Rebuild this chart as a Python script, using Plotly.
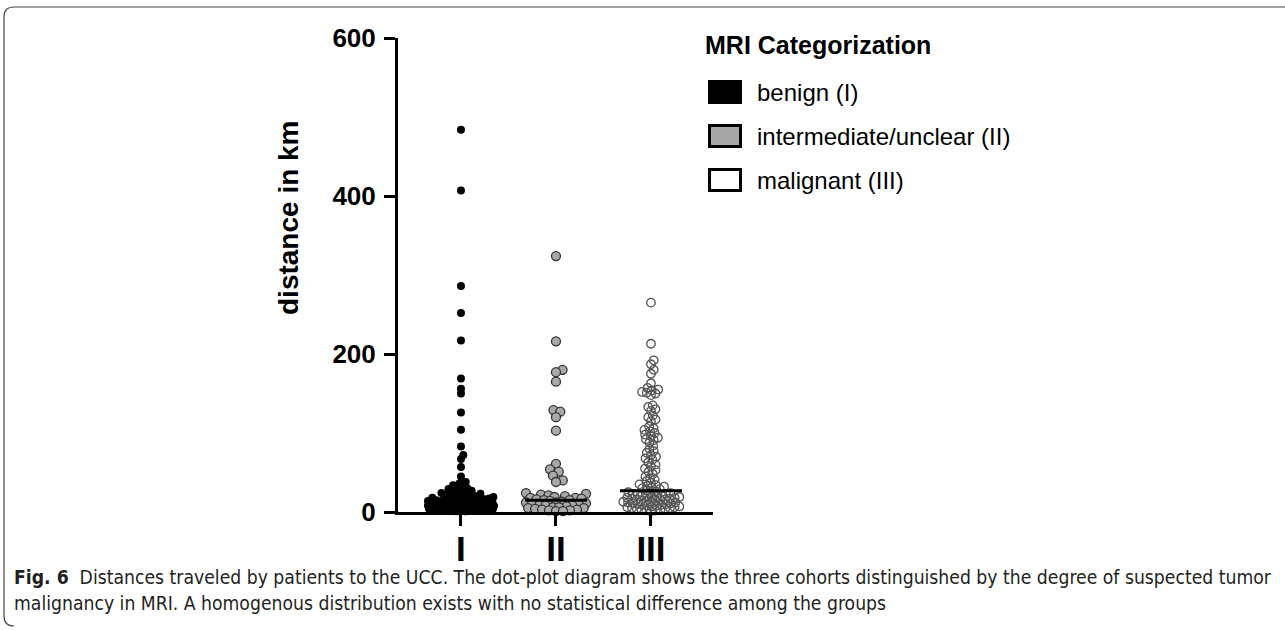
import math
import plotly.graph_objects as go

# ---------------- data ----------------
categories = ["I", "II", "III"]
legend_labels = ["benign (I)", "intermediate/unclear (II)", "malignant (III)"]

benign_km = [484, 407, 286, 252, 217, 169, 156, 150, 126, 104, 83, 72, 67, 57, 45, 38,
             36, 34, 33, 31, 30, 29, 28, 27, 26, 25, 25, 24, 23, 22, 22, 21, 20, 20, 19, 19,
             18, 18, 17, 17, 16, 16, 16, 15, 15, 15, 14, 14, 14, 13, 13, 13, 12, 12, 12,
             11, 11, 11, 10, 10, 10, 9, 9, 9, 9, 8, 8, 8, 8, 7, 7, 7, 7, 6, 6, 6, 6,
             5, 5, 5, 5, 5, 4, 4, 4, 4, 3, 3, 3, 3, 2, 2, 2, 2, 1, 1, 1]

intermediate_km = [324, 216, 180, 177, 165, 129, 127, 120, 103, 61, 54, 51, 46, 40, 38,
                   24, 23, 22, 21, 20, 19, 18, 18, 17, 16, 15, 15, 14, 13, 12, 12, 11, 10,
                   10, 9, 8, 8, 7, 6, 6, 5, 5, 4, 3, 3, 2, 2, 1, 1]

malignant_km = [265, 213, 192, 187, 180, 175, 163, 157, 155, 154, 152, 151, 150, 148, 135,
                133, 130, 128, 122, 120, 117, 115, 108, 106, 104, 102, 100, 98, 96, 94, 92,
                91, 88, 84, 80, 77, 75, 72, 70, 68, 66, 63, 60, 58, 55, 53, 51, 48, 45, 43,
                41, 39, 37, 35, 34, 33, 32, 31, 30, 29, 27, 26, 25, 25, 24, 23, 23, 22, 21,
                21, 20, 20, 19, 19, 18, 18, 17, 17, 16, 16, 15, 15, 14, 14, 13, 13, 12, 12,
                11, 11, 10, 10, 9, 9, 8, 8, 7, 7, 6, 6, 5, 5, 4, 4, 3, 3, 2, 2, 1]

median_km = [16, 15, 27]

y_ticks = [0, 200, 400, 600]

# ---------------- layout geometry ----------------
W, H = 1285, 630
L, R, T, B = 398, 572, 38, 118
PW, PH = W - L - R, H - T - B
x_range = [-0.663, 2.653]
y_range = [0, 600]
px_per_unit_x = PW / (x_range[1] - x_range[0])
px_per_km = PH / (y_range[1] - y_range[0])


def X(px):
    return (px - L) / PW


def Y(py):
    return (H - B - py) / PH


def swarm(values, diam, maxw):
    """Beeswarm horizontal offsets (in category units) computed in pixel space."""
    placed = []
    out = {}
    order = sorted(range(len(values)), key=lambda i: values[i])
    for i in order:
        y = values[i] * px_per_km
        cands = [0.0]
        for (xj, yj) in placed:
            dy = y - yj
            if abs(dy) < diam:
                dx = math.sqrt(diam * diam - dy * dy)
                cands += [xj + dx, xj - dx]
        cands.sort(key=abs)
        chosen = None
        for c in cands:
            if abs(c) > maxw:
                continue
            if all((c - xj) ** 2 + (y - yj) ** 2 >= diam * diam - 1e-6 for (xj, yj) in placed):
                chosen = c
                break
        if chosen is None:
            best, bestd = 0.0, -1
            steps = 40
            for k in range(steps + 1):
                c = -maxw + 2 * maxw * k / steps
                d = min(((c - xj) ** 2 + (y - yj) ** 2) for (xj, yj) in placed) if placed else 1e9
                if d > bestd:
                    bestd, best = d, c
            chosen = best
        placed.append((chosen, y))
        out[i] = chosen / px_per_unit_x
    return [out[i] for i in range(len(values))]


groups = [benign_km, intermediate_km, malignant_km]
swarm_params = [(4.6, 33), (7.0, 30), (4.8, 31)]

fig = go.Figure()

styles = [
    dict(symbol="circle", size=8, color="black", line=dict(width=0)),
    dict(symbol="circle", size=9, color="#a9a9a9", line=dict(width=1.3, color="#333333")),
    dict(symbol="circle-open", size=8.5, color="#555555", line=dict(width=1.3)),
]

for gi, vals in enumerate(groups):
    d, mw = swarm_params[gi]
    offs = swarm(vals, d, mw)
    fig.add_trace(go.Scatter(
        x=[gi + o for o in offs], y=vals, mode="markers",
        marker=styles[gi], cliponaxis=False, showlegend=False,
        name=legend_labels[gi], hoverinfo="y",
    ))

half = 31 / px_per_unit_x
for gi, m in enumerate(median_km):
    fig.add_trace(go.Scatter(
        x=[gi - half, gi + half], y=[m, m], mode="lines",
        line=dict(color="black", width=3), cliponaxis=False,
        showlegend=False, hoverinfo="skip",
    ))

font_main = "Liberation Sans, Arial, Helvetica, sans-serif"

fig.update_layout(
    width=W, height=H,
    margin=dict(l=L, r=R, t=T, b=B, pad=0),
    paper_bgcolor="white", plot_bgcolor="white",
    showlegend=False,
    xaxis=dict(
        range=x_range, tickvals=[0, 1, 2], ticktext=categories,
        showline=True, linecolor="black", linewidth=3,
        ticks="outside", ticklen=11, tickwidth=3, tickcolor="black",
        showgrid=False, zeroline=False,
        tickfont=dict(family=font_main, size=35, color="black", weight="bold"),
        ticklabelstandoff=-7,
    ),
    yaxis=dict(
        range=y_range, tickvals=y_ticks,
        showline=True, linecolor="black", linewidth=3,
        ticks="outside", ticklen=11, tickwidth=3, tickcolor="black",
        showgrid=False, zeroline=False,
        tickfont=dict(family=font_main, size=26, color="black", weight="bold"),
        ticklabelstandoff=3,
    ),
)

annotations = []
# y axis title
annotations.append(dict(
    x=X(288), y=Y(218), xref="paper", yref="paper", text="distance in km",
    textangle=-90, showarrow=False, xanchor="center", yanchor="middle",
    font=dict(family=font_main, size=28, color="black", weight="bold"),
))
# legend title
annotations.append(dict(
    x=X(703), y=Y(45), xref="paper", yref="paper", text="MRI Categorization",
    showarrow=False, xanchor="left", yanchor="middle",
    font=dict(family=font_main, size=25, color="black", weight="bold"),
))

shapes = []
legend_rows = [92, 136, 180]
swatch_fill = ["black", "#a6a6a6", "white"]
for k, lab in enumerate(legend_labels):
    cy = legend_rows[k]
    shapes.append(dict(
        type="rect", xref="paper", yref="paper",
        x0=X(709.5), x1=X(740.5), y0=Y(cy - 10.5), y1=Y(cy + 10.5),
        fillcolor=swatch_fill[k], line=dict(color="black", width=3),
    ))
    annotations.append(dict(
        x=X(755), y=Y(cy), xref="paper", yref="paper", text=lab,
        showarrow=False, xanchor="left", yanchor="middle",
        font=dict(family=font_main, size=24, color="black"),
    ))

# caption
cap_font = "Liberation Sans Narrow, Arial Narrow, DejaVu Sans Condensed, sans-serif"
annotations.append(dict(
    x=X(12), y=Y(577), xref="paper", yref="paper",
    text="<b>Fig. 6</b>  Distances traveled by patients to the UCC. The dot-plot diagram shows the three cohorts distinguished by the degree of suspected tumor",
    showarrow=False, xanchor="left", yanchor="middle",
    font=dict(family=cap_font, size=19.2, color="#231f20"),
))
annotations.append(dict(
    x=X(12), y=Y(603), xref="paper", yref="paper",
    text="malignancy in MRI. A homogenous distribution exists with no statistical difference among the groups",
    showarrow=False, xanchor="left", yanchor="middle",
    font=dict(family=cap_font, size=19.2, color="#231f20"),
))

# frame
path = (f"M {X(1285)},{Y(7)} L {X(14)},{Y(7)} Q {X(4)},{Y(7)} {X(4)},{Y(17)} "
        f"L {X(4)},{Y(616)} Q {X(4)},{Y(626)} {X(14)},{Y(626)}")
shapes.append(dict(type="path", xref="paper", yref="paper", path=path,
                   line=dict(color="#444444", width=1.2)))

fig.update_layout(annotations=annotations, shapes=shapes)

fig.write_html(
    "out.html",
    config={"displayModeBar": False},
    post_script="document.body.style.margin='0px';document.body.style.padding='0px';",
)
